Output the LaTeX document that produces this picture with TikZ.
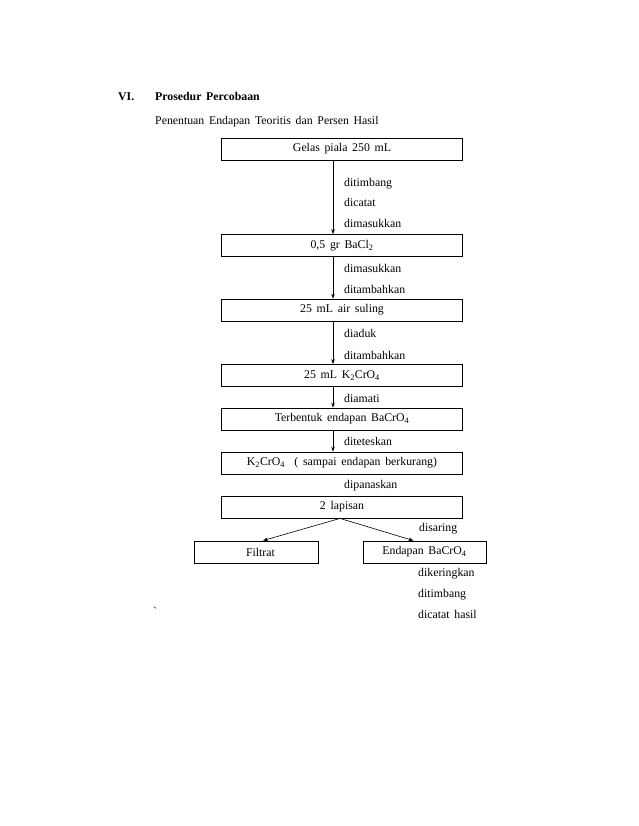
\documentclass[tikz,border=0pt]{standalone}
\usepackage{fontspec}
\setmainfont[WordSpace=1.6]{Liberation Serif}
\usetikzlibrary{arrows.meta}
\tikzset{
  stepbox/.style={draw,line width=0.8pt,minimum height=22pt,inner sep=0pt},
  wide/.style={stepbox,minimum width=241pt},
  narrow/.style={stepbox,minimum width=124pt},
  note/.style={anchor=base west,inner sep=0pt},
  flow/.style={->,line width=0.6pt}
}

\begin{document}
\begin{tikzpicture}[x=1pt,y=-1pt,>={Stealth[length=5pt,width=3.6pt]},font=\fontsize{11.8}{14}\selectfont]
\useasboundingbox (0,0) rectangle (638,826);
\node[note,font=\fontsize{11.8}{14}\selectfont\bfseries] (bab) at (118,101) {VI.};
\node[note,font=\fontsize{11.8}{14}\selectfont\bfseries] (judul) at (155,101) {Prosedur Percobaan};
\node[note] (sub) at (155,125) {Penentuan Endapan Teoritis dan Persen Hasil};
% kotak alur utama
\node[wide] (gelas) at (342,149) {Gelas piala 250 mL};
\node[wide] (bacl) at (342,245.5) {0,5 gr BaCl\textsubscript{2}};
\node[wide] (air) at (342,310) {25 mL air suling};
\node[wide] (kcro) at (342,375.5) {25 mL K\textsubscript{2}CrO\textsubscript{4}};
\node[wide] (endap) at (342,419) {Terbentuk endapan BaCrO\textsubscript{4}};
\node[wide] (tetes) at (342,463) {K\textsubscript{2}CrO\textsubscript{4}\ \ ( sampai endapan berkurang)};
\node[wide] (lapis) at (342,507) {2 lapisan};
\node[narrow] (filtrat) at (256,552) {\hspace{9pt}Filtrat};
\node[narrow,minimum width=123pt] (bacro) at (424.5,552) {Endapan BaCrO\textsubscript{4}};
% panah
\draw[flow] ([xshift=-9pt]gelas.south) -- ([xshift=-9pt]bacl.north);
\draw[flow] ([xshift=-9pt]bacl.south) -- ([xshift=-9pt]air.north);
\draw[flow] ([xshift=-9pt]air.south) -- ([xshift=-9pt]kcro.north);
\draw[flow] ([xshift=-9pt]kcro.south) -- ([xshift=-9pt]endap.north);
\draw[flow] ([xshift=-9pt]endap.south) -- ([xshift=-9pt]tetes.north);
\draw[flow] ([xshift=-2pt]lapis.south) -- ([xshift=7pt]filtrat.north);
\draw[flow] ([xshift=-2pt]lapis.south) -- ([xshift=-11pt]bacro.north);
% keterangan
\node[note] (a1) at (344,187) {ditimbang};
\node[note] (a2) at (344,207) {dicatat};
\node[note] (a3) at (344,228) {dimasukkan};
\node[note] (b1) at (344,272) {dimasukkan};
\node[note] (b2) at (344,293) {ditambahkan};
\node[note] (c1) at (344,337) {diaduk};
\node[note] (c2) at (344,359) {ditambahkan};
\node[note] (d1) at (344,402) {diamati};
\node[note] (e1) at (344,445) {diteteskan};
\node[note] (f1) at (344,488) {dipanaskan};
\node[note] (g1) at (419,531) {disaring};
\node[note] (h1) at (418,576) {dikeringkan};
\node[note] (h2) at (418,597) {ditimbang};
\node[note] (h3) at (418,618) {dicatat hasil};
\node[note] (tik) at (153,615) {\textasciigrave};
\end{tikzpicture}
\end{document}
